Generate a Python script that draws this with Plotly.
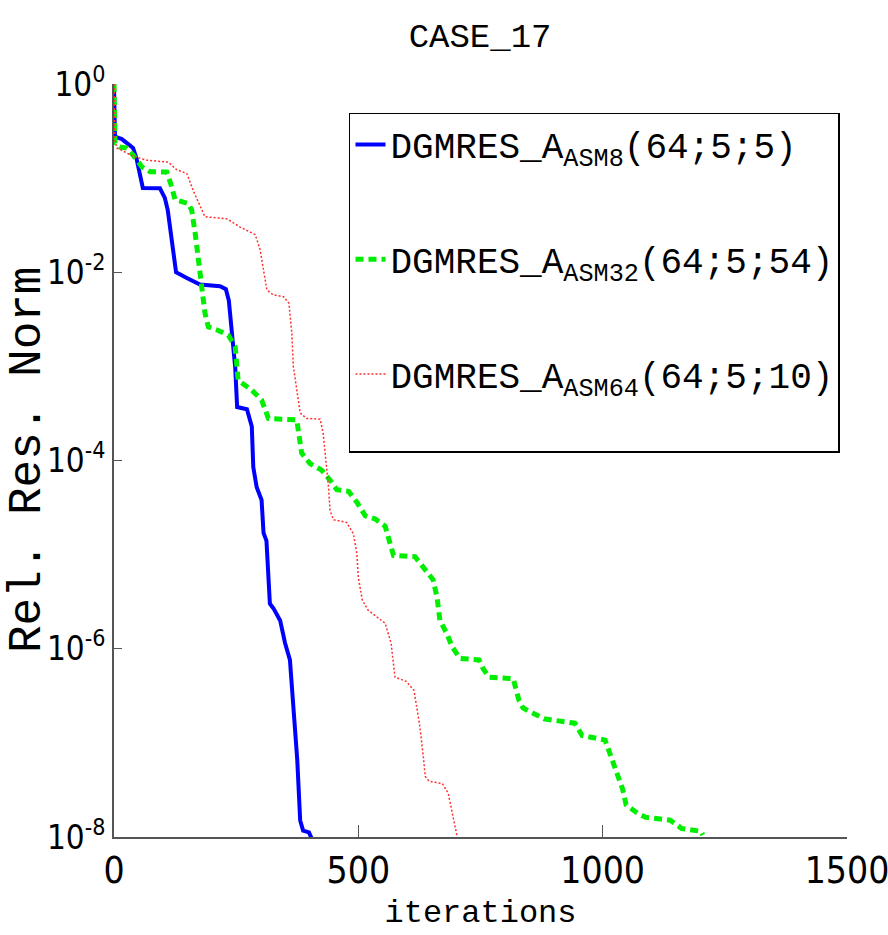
import plotly.graph_objects as go

# ---- data ----
iters_asm8 = [0, 2, 16, 39, 46, 59, 94, 104, 110, 119, 127, 149, 176, 217, 229, 235, 241, 248, 252,
              272, 282, 285, 292, 302, 306, 312, 319, 326, 340, 350, 360, 375, 381, 387, 399, 405]
res_asm8 = [1.0, 0.275, 0.26, 0.209, 0.162, 0.0785, 0.078, 0.0617, 0.0457, 0.0186, 0.01, 0.0087,
            0.0074, 0.0071, 0.0066, 0.005, 0.0026, 9.8e-4, 3.7e-4, 3.5e-4, 2.3e-4, 8.5e-5, 5.2e-5,
            3.8e-5, 1.7e-5, 1.4e-5, 3.0e-6, 2.7e-6, 2.0e-6, 1.15e-6, 7.6e-7, 6.6e-8, 1.5e-8,
            1.17e-8, 1.12e-8, 9.5e-9]

iters_asm32 = [0, 2, 12, 26, 39, 57, 74, 108, 118, 125, 152, 159, 166, 173, 180, 186, 193, 210, 234,
               248, 254, 282, 302, 316, 374, 381, 384, 401, 425, 442, 456, 480, 497, 514, 534, 555,
               565, 572, 616, 633, 653, 661, 667, 681, 692, 708, 747, 755, 767, 817, 829, 837, 880,
               943, 958, 1005, 1013, 1029, 1041, 1048, 1072, 1088, 1138, 1162, 1201, 1205]
res_asm32 = [1.0, 0.234, 0.214, 0.209, 0.176, 0.132, 0.117, 0.116, 0.0813, 0.0589, 0.0537, 0.0457,
             0.0263, 0.0135, 0.00708, 0.00372, 0.00263, 0.00245, 0.00214, 0.00162, 7.1e-4, 5.6e-4,
             4.4e-4, 2.8e-4, 2.7e-4, 1.66e-4, 1.2e-4, 9.3e-5, 7.9e-5, 6.2e-5, 4.9e-5, 4.7e-5,
             3.6e-5, 2.6e-5, 2.4e-5, 2.0e-5, 1.38e-5, 9.8e-6, 9.5e-6, 7.4e-6, 5.4e-6, 3.55e-6,
             2.0e-6, 1.45e-6, 1.05e-6, 7.9e-7, 7.6e-7, 6.2e-7, 5.0e-7, 4.8e-7, 2.8e-7, 2.35e-7,
             1.8e-7, 1.62e-7, 1.2e-7, 1.07e-7, 8.3e-8, 5.1e-8, 3.2e-8, 2.2e-8, 1.78e-8, 1.62e-8,
             1.51e-8, 1.23e-8, 1.15e-8, 1.05e-8]

iters_asm64 = [0, 2, 6, 40, 67, 111, 128, 149, 162, 176, 186, 231, 258, 289, 299, 306, 313, 326, 347,
               358, 364, 367, 374, 381, 394, 422, 428, 435, 439, 442, 449, 476, 490, 497, 500, 508,
               520, 555, 567, 575, 598, 614, 626, 633, 637, 645, 672, 684, 692, 700, 702]
res_asm64 = [1.0, 0.251, 0.209, 0.17, 0.155, 0.148, 0.123, 0.112, 0.0741, 0.0501, 0.0389, 0.037,
             0.0302, 0.0251, 0.0174, 0.0105, 0.00646, 0.00575, 0.0055, 0.00468, 0.00224, 0.001,
             5.6e-4, 3.2e-4, 2.8e-4, 2.75e-4, 1.95e-4, 8.5e-5, 5.2e-5, 2.95e-5, 2.35e-5, 2.2e-5,
             1.66e-5, 1.02e-5, 5.75e-6, 3.3e-6, 2.57e-6, 1.86e-6, 1.15e-6, 5.0e-7, 4.5e-7, 3.6e-7,
             1.48e-7, 7.1e-8, 4.4e-8, 3.9e-8, 3.7e-8, 2.9e-8, 1.9e-8, 1.15e-8, 1.0e-8]

names = ["DGMRES_A<sub>ASM8</sub>(64;5;5)",
         "DGMRES_A<sub>ASM32</sub>(64;5;54)",
         "DGMRES_A<sub>ASM64</sub>(64;5;10)<br><span style='font-size:50px'>\u00a0</span>"]

x_ticks = [0, 500, 1000, 1500]
y_ticks = [1, 1e-2, 1e-4, 1e-6, 1e-8]
y_tick_text = ["10<sup>0</sup>", "10<sup>-2</sup>", "10<sup>-4</sup>", "10<sup>-6</sup>", "10<sup>-8</sup>"]
y_title = "Rel. Res. Norm"

MONO = "Liberation Mono, Courier New, monospace"
NARROW = "Liberation Sans Narrow, DejaVu Sans Condensed, Arial Narrow, Liberation Sans, sans-serif"

fig = go.Figure()
fig.add_trace(go.Scatter(x=iters_asm8, y=res_asm8, mode="lines", name=names[0], legendgroup="g1",
                         line=dict(color="#0000ff", width=4)))
fig.add_trace(go.Scatter(x=iters_asm32, y=res_asm32, mode="lines", name=names[1], legendgroup="g2",
                         line=dict(color="#00ee00", width=5, dash="8px,5px")))
fig.add_trace(go.Scatter(x=iters_asm64, y=res_asm64, mode="lines", name=names[2], legendgroup="g3",
                         line=dict(color="#ff3030", width=1.5, dash="2px,2px")))

fig.update_layout(
    width=888, height=935,
    margin=dict(l=114, r=41, t=84, b=98),
    paper_bgcolor="white", plot_bgcolor="white",
    title=dict(text="CASE_17", x=0.5406, xanchor="center", y=1 - 35 / 935, yanchor="middle",
               font=dict(family=MONO, size=34, color="black")),
    showlegend=True,
    legend=dict(x=0.3206, y=0.9615, xanchor="left", yanchor="top",
                bordercolor="black", borderwidth=1.5, bgcolor="white",
                font=dict(family=MONO, size=36, color="black"),
                tracegroupgap=65, itemwidth=30, valign="top"),
    xaxis=dict(range=[0, 1500], tickvals=x_ticks, ticktext=[str(v) for v in x_ticks],
               ticks="inside", ticklen=12, tickwidth=1.2, tickcolor="#555",
               showline=True, linecolor="#555", linewidth=2, showgrid=False, zeroline=False,
               automargin=False, ticklabeloverflow="allow",
               tickfont=dict(family=NARROW, size=37, color="black"),
               title=dict(text="iterations", font=dict(family=MONO, size=32, color="black"),
                          standoff=8)),
    yaxis=dict(type="log", range=[-8, 0], tickvals=y_ticks, ticktext=y_tick_text,
               ticks="inside", ticklen=8, tickwidth=1.2, tickcolor="#555",
               showline=True, linecolor="#555", linewidth=2, showgrid=False, zeroline=False,
               automargin=False, ticklabeloverflow="allow",
               tickfont=dict(family=NARROW, size=33, color="black")),
    annotations=[dict(text=y_title, textangle=-90, xref="paper", yref="paper",
                      x=-0.118, y=0.5, xanchor="center", yanchor="middle", showarrow=False,
                      font=dict(family=MONO, size=46, color="black"))],
)

fig.write_html("out.html")
